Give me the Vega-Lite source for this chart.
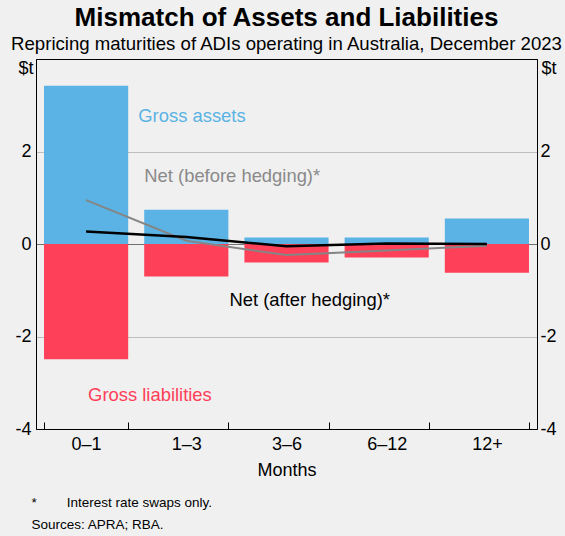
{
  "$schema": "https://vega.github.io/schema/vega-lite/v6.json",
  "background": "#f0f0f0",
  "padding": {"left": 9, "top": 4, "right": 5, "bottom": 8},
  "title": {
    "text": ["*\u00a0\u00a0\u00a0\u00a0\u00a0\u00a0\u00a0\u00a0Interest rate swaps only.", "Sources: APRA; RBA."],
    "orient": "bottom",
    "anchor": "start",
    "frame": "bounds",
    "fontSize": 13.5,
    "fontWeight": "normal",
    "color": "#000000",
    "lineHeight": 22,
    "offset": 16,
    "dx": 22
  },
  "vconcat": [
    {
      "width": 501,
      "height": 370,
      "title": {
        "text": "Mismatch of Assets and Liabilities",
        "subtitle": "Repricing maturities of ADIs operating in Australia, December 2023",
        "anchor": "middle",
        "frame": "group",
        "fontSize": 26,
        "fontWeight": "bold",
        "color": "#000000",
        "subtitleFontSize": 18.6,
        "subtitleColor": "#000000",
        "subtitlePadding": 4,
        "offset": 5
      },
      "data": {
        "values": [
          {"cat": "0–1", "assets": 3.42, "liabilities": -2.49, "netBefore": 0.95, "netAfter": 0.27},
          {"cat": "1–3", "assets": 0.74, "liabilities": -0.70, "netBefore": 0.07, "netAfter": 0.15},
          {"cat": "3–6", "assets": 0.14, "liabilities": -0.40, "netBefore": -0.24, "netAfter": -0.05},
          {"cat": "6–12", "assets": 0.14, "liabilities": -0.29, "netBefore": -0.14, "netAfter": 0.01},
          {"cat": "12+", "assets": 0.55, "liabilities": -0.62, "netBefore": -0.04, "netAfter": 0.0}
        ]
      },
      "encoding": {
        "x": {
          "field": "cat",
          "type": "nominal",
          "sort": null,
          "scale": {"paddingInner": 0.16, "paddingOuter": 0.08},
          "axis": {
            "title": "Months",
            "labelAngle": 0,
            "tickBand": "extent",
            "tickSize": -7,
            "labelPadding": 13,
            "titlePadding": 8,
            "labelFontSize": 18,
            "titleFontSize": 18
          }
        }
      },
      "layer": [
        {
          "mark": {"type": "bar", "color": "#5ab3e4"},
          "encoding": {
            "y": {
              "field": "assets",
              "type": "quantitative",
              "scale": {"domain": [-4, 4], "nice": false},
              "axis": {
                "orient": "left",
                "values": [-4, -2, 0, 2],
                "labelExpr": "'' + datum.value",
                "title": "$t",
                "titleAngle": 0,
                "titleAlign": "right",
                "titleBaseline": "middle",
                "titleX": -3,
                "titleY": 9,
                "ticks": false,
                "labelPadding": 5,
                "labelFontSize": 18,
                "titleFontSize": 18,
                "grid": true,
                "gridColor": {"condition": {"test": "datum.value === 0", "value": "#707070"}, "value": "#bdbdbd"}
              }
            }
          }
        },
        {
          "mark": {"type": "bar", "color": "#fe4059"},
          "encoding": {
            "y": {
              "field": "liabilities",
              "type": "quantitative",
              "scale": {"domain": [-4, 4], "nice": false},
              "axis": {
                "orient": "right",
                "values": [-4, -2, 0, 2],
                "labelExpr": "'' + datum.value",
                "title": "$t",
                "titleAngle": 0,
                "titleAlign": "left",
                "titleBaseline": "middle",
                "titleX": 4,
                "titleY": 9,
                "ticks": false,
                "labelPadding": 3,
                "labelFontSize": 18,
                "titleFontSize": 18,
                "grid": false
              }
            }
          }
        },
        {
          "mark": {"type": "line", "color": "#858585", "strokeWidth": 2},
          "encoding": {
            "y": {"field": "netBefore", "type": "quantitative", "scale": {"domain": [-4, 4], "nice": false}, "axis": null}
          }
        },
        {
          "mark": {"type": "line", "color": "#000000", "strokeWidth": 2.5},
          "encoding": {
            "y": {"field": "netAfter", "type": "quantitative", "scale": {"domain": [-4, 4], "nice": false}, "axis": null}
          }
        },
        {
          "data": {"values": [{"cat": "1–3", "y": 2.77, "label": "Gross assets"}]},
          "mark": {"type": "text", "align": "left", "baseline": "middle", "dx": -48, "fontSize": 18.4, "color": "#5ab3e4"},
          "encoding": {
            "y": {"field": "y", "type": "quantitative", "scale": {"domain": [-4, 4], "nice": false}, "axis": null},
            "text": {"field": "label"}
          }
        },
        {
          "data": {"values": [{"cat": "1–3", "y": 1.46, "label": "Net (before hedging)*"}]},
          "mark": {"type": "text", "align": "left", "baseline": "middle", "dx": -42, "fontSize": 18.4, "color": "#8a8a8a"},
          "encoding": {
            "y": {"field": "y", "type": "quantitative", "scale": {"domain": [-4, 4], "nice": false}, "axis": null},
            "text": {"field": "label"}
          }
        },
        {
          "data": {"values": [{"cat": "3–6", "y": -1.2, "label": "Net (after hedging)*"}]},
          "mark": {"type": "text", "align": "left", "baseline": "middle", "dx": -57, "fontSize": 18.4, "color": "#000000"},
          "encoding": {
            "y": {"field": "y", "type": "quantitative", "scale": {"domain": [-4, 4], "nice": false}, "axis": null},
            "text": {"field": "label"}
          }
        },
        {
          "data": {"values": [{"cat": "0–1", "y": -3.27, "label": "Gross liabilities"}]},
          "mark": {"type": "text", "align": "left", "baseline": "middle", "dx": 2, "fontSize": 18.4, "color": "#fe4059"},
          "encoding": {
            "y": {"field": "y", "type": "quantitative", "scale": {"domain": [-4, 4], "nice": false}, "axis": null},
            "text": {"field": "label"}
          }
        }
      ],
      "resolve": {"axis": {"y": "independent"}}
    }
  ],
  "config": {
    "font": "Liberation Sans",
    "view": {"stroke": "#000000", "strokeWidth": 1},
    "axis": {
      "labelColor": "#000000",
      "titleColor": "#000000",
      "titleFontWeight": "normal",
      "domainColor": "#000000",
      "tickColor": "#000000",
      "labelFont": "Liberation Sans",
      "titleFont": "Liberation Sans"
    },
    "title": {"font": "Liberation Sans", "subtitleFont": "Liberation Sans"}
  }
}
